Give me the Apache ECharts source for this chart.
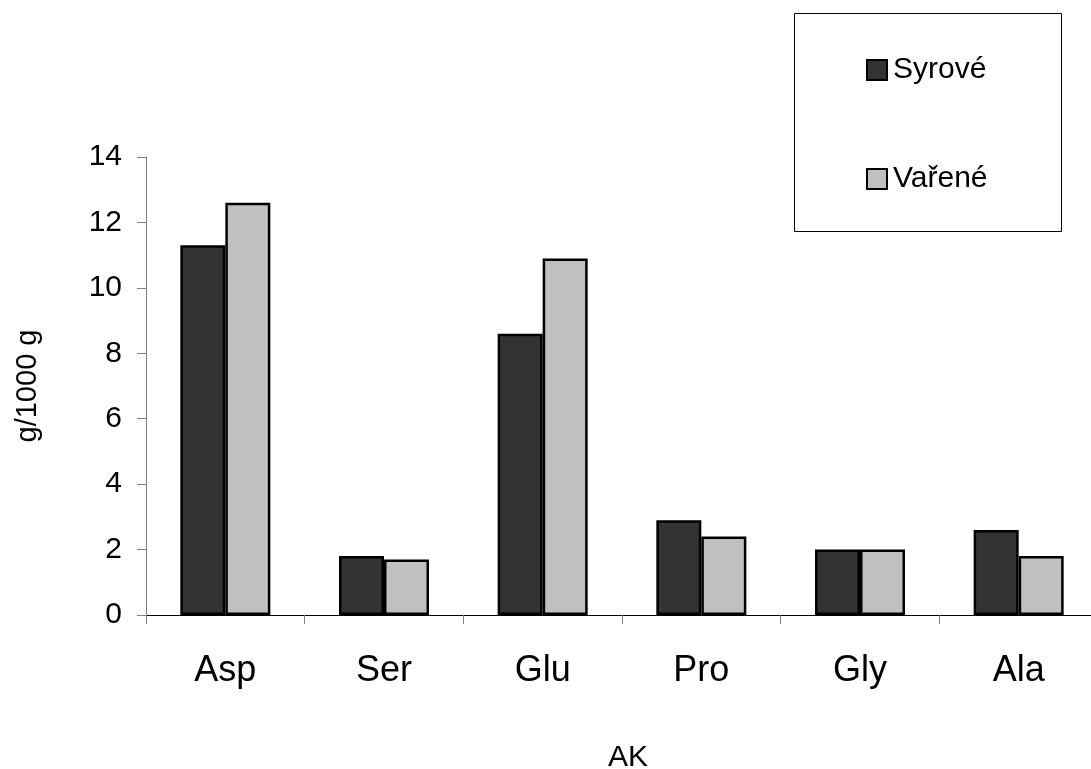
<!DOCTYPE html>
<html>
<head>
<meta charset="utf-8">
<script src="https://cdn.jsdelivr.net/npm/echarts@6/dist/echarts.min.js"></script>
<style>
  html, body { margin: 0; padding: 0; background: #ffffff; }
  #chart { width: 1091px; height: 769px; }
</style>
</head>
<body>
<div id="chart"></div>
<script>
// Amino acid content, raw vs. cooked (g/1000 g)
const categories = ['Asp', 'Ser', 'Glu', 'Pro', 'Gly', 'Ala'];
const syrove = [11.3, 1.8, 8.6, 2.9, 2.0, 2.6];
const varene = [12.6, 1.7, 10.9, 2.4, 2.0, 1.8];
const seriesNames = ['Syrové', 'Vařené'];
const yTicks = { min: 0, max: 14, interval: 2 };

const FONT = "'Liberation Sans', Arial, sans-serif";
const chart = echarts.init(document.getElementById('chart'), null, { renderer: 'canvas' });

chart.setOption({
  backgroundColor: '#ffffff',
  animation: false,
  textStyle: { fontFamily: FONT, color: '#000' },
  grid: { left: 146, right: -7, top: 157, bottom: 154, containLabel: false, outerBoundsMode: 'none' },
  graphic: [{
    type: 'rect',
    shape: { x: 794.5, y: 13.5, width: 267, height: 218 },
    style: { fill: 'none', stroke: '#000', lineWidth: 1 },
    z: 10
  }],
  legend: {
    orient: 'vertical',
    left: 866,
    top: 55,
    padding: 0,
    itemWidth: 20,
    itemHeight: 20,
    itemGap: 79,
    icon: 'rect',
    textStyle: { fontFamily: FONT, fontSize: 30, color: '#000', padding: [0, 0, 0, 1] },
    data: seriesNames
  },
  xAxis: {
    type: 'category',
    data: categories,
    boundaryGap: true,
    name: 'AK',
    nameLocation: 'middle',
    nameGap: 128,
    nameTextStyle: { fontFamily: FONT, fontSize: 30, color: '#000', padding: [0, 0, 0, 12] },
    axisLine: { lineStyle: { color: '#000', width: 1 } },
    axisTick: { show: true, alignWithLabel: false, length: 9, lineStyle: { color: '#808080' } },
    axisLabel: { fontFamily: FONT, fontSize: 36, color: '#000', margin: 38 },
    splitLine: { show: false }
  },
  yAxis: {
    type: 'value',
    min: yTicks.min,
    max: yTicks.max,
    interval: yTicks.interval,
    name: 'g/1000 g',
    nameLocation: 'middle',
    nameRotate: 90,
    nameGap: 104,
    nameTextStyle: { fontFamily: FONT, fontSize: 29, color: '#000' },
    axisLine: { show: true, lineStyle: { color: '#808080', width: 1 } },
    axisTick: { show: true, length: 9, lineStyle: { color: '#808080' } },
    axisLabel: { fontFamily: FONT, fontSize: 30, color: '#000', margin: 24 },
    splitLine: { show: false }
  },
  series: [
    {
      name: seriesNames[0],
      type: 'bar',
      data: syrove,
      barWidth: 45,
      barGap: '0%',
      itemStyle: { color: '#333333', borderColor: '#000', borderWidth: 2.5 }
    },
    {
      name: seriesNames[1],
      type: 'bar',
      data: varene,
      barWidth: 45,
      barGap: '0%',
      itemStyle: { color: '#c0c0c0', borderColor: '#000', borderWidth: 2.5 }
    }
  ]
});
</script>
</body>
</html>
